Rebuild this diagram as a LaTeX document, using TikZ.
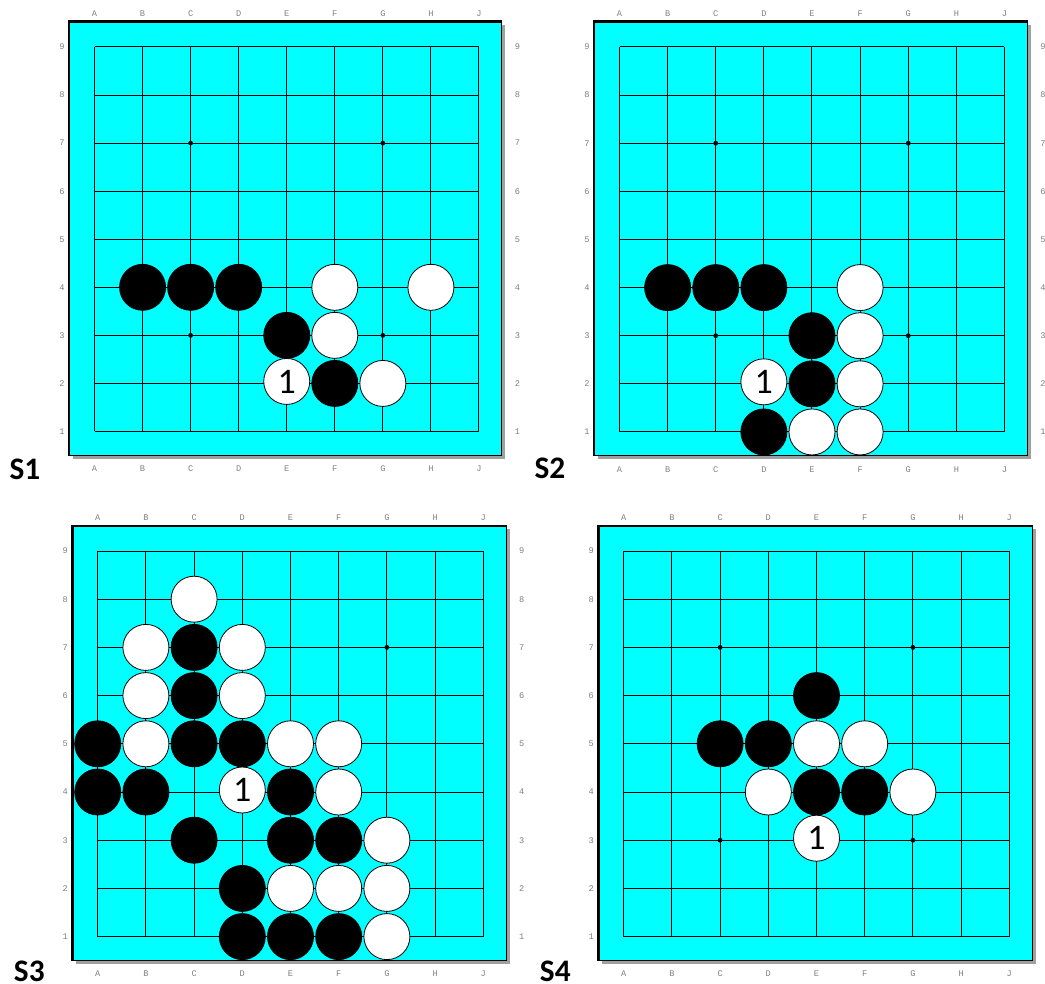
\documentclass[tikz,border=0pt]{standalone}
\usepackage{fontspec}
\setmainfont{Carlito}
\newfontfamily\lblfont{Liberation Mono}
\definecolor{boardcyan}{HTML}{00FFFF}
\definecolor{shadowgray}{HTML}{A0A0A0}
\definecolor{lblgray}{HTML}{808080}
\tikzset{
  gridline/.style={line width=0.75pt, draw=black},
  lbl/.style={font=\lblfont\fontsize{6.5}{7}\selectfont, text=lblgray, inner sep=0},
  stoneb/.style={circle, draw=black, fill=black, line width=0.6pt, minimum size=34.5pt, inner sep=0},
  stonew/.style={circle, draw=black, fill=white, line width=0.6pt, minimum size=34.5pt, inner sep=0},
  onefont/.style={font=\fontsize{27}{27}\selectfont},
  slab/.style={font=\bfseries\fontsize{23.5}{24}\selectfont, inner sep=0}
}
\newcommand\stn[4]{\node[stone#1] (#4) at ({#2*\sp},{(9-#3)*\sp}) {};}
\newcommand\stnone[3]{\node[stonew, onefont, yshift=1.5pt] (#3) at ({#1*\sp},{(9-#2)*\sp}) {1};}
% #1 x, #2 y, #3 spacing, #4 prefix, #5 right labels (1/0), #6 stones
\newcommand\goboard[6]{%
\begin{scope}[shift={(#1,#2)}]
\pgfmathsetmacro\W{8*#3}
\def\sp{#3}
\fill[shadowgray] (-22,-22) rectangle (\W+26.5,\W+27.5);
\filldraw[fill=boardcyan, draw=black, line width=0.75pt] (-26.5,-26) rectangle (\W+23,\W+24);
\draw[line width=2pt] (-25.5,\W+24) -- (-25.5,-25) -- (\W+23,-25);
\foreach \i in {0,...,8} {
  \draw[gridline] ({\i*#3},0) -- ({\i*#3},\W);
  \draw[gridline] (0,{\i*#3}) -- (\W,{\i*#3});
}
\foreach \c in {2,6} \foreach \r in {2,6} \fill ({\c*#3},{\r*#3}) circle (2.4);
\foreach \l [count=\k from 0] in {A,B,C,D,E,F,G,H,J} {
  \node[lbl] (#4top\l) at ({\k*#3},-33) {\l};
  \node[lbl] (#4bot\l) at ({\k*#3},\W+37.5) {\l};
}
\foreach \n in {1,...,9} {
  \node[lbl] (#4left\n) at (-32.5,{(9-\n)*#3}) {\n};
  \ifnum#5=1 \node[lbl] (#4right\n) at (\W+38.5,{(9-\n)*#3}) {\n};\fi
}
#6
\end{scope}}
\begin{document}
\begin{tikzpicture}[x=0.75pt, y=-0.75pt]
\useasboundingbox (0,0) rectangle (1045,984);
\clip (0,0) rectangle (1045,984);
% S1
\goboard{94.5}{47}{48.06}{a}{1}{%
  \stn{b}{1}{4}{aB4}\stn{b}{2}{4}{aC4}\stn{b}{3}{4}{aD4}
  \stn{w}{5}{4}{aF4}\stn{w}{7}{4}{aH4}
  \stn{b}{4}{3}{aE3}\stn{w}{5}{3}{aF3}
  \stnone{4}{2}{aE2}\stn{b}{5}{2}{aF2}\stn{w}{6}{2}{aG2}
}
% S2
\goboard{619.5}{47}{48.12}{b}{1}{%
  \stn{b}{1}{4}{bB4}\stn{b}{2}{4}{bC4}\stn{b}{3}{4}{bD4}
  \stn{w}{5}{4}{bF4}
  \stn{b}{4}{3}{bE3}\stn{w}{5}{3}{bF3}
  \stnone{3}{2}{bD2}\stn{b}{4}{2}{bE2}\stn{w}{5}{2}{bF2}
  \stn{b}{3}{1}{bD1}\stn{w}{4}{1}{bE1}\stn{w}{5}{1}{bF1}
}
% S3
\goboard{97.7}{551}{48.2}{c}{1}{%
  \stn{w}{2}{8}{cC8}
  \stn{w}{1}{7}{cB7}\stn{b}{2}{7}{cC7}\stn{w}{3}{7}{cD7}
  \stn{w}{1}{6}{cB6}\stn{b}{2}{6}{cC6}\stn{w}{3}{6}{cD6}
  \stn{b}{0}{5}{cA5}\stn{w}{1}{5}{cB5}\stn{b}{2}{5}{cC5}\stn{b}{3}{5}{cD5}\stn{w}{4}{5}{cE5}\stn{w}{5}{5}{cF5}
  \stn{b}{0}{4}{cA4}\stn{b}{1}{4}{cB4}\stnone{3}{4}{cD4}\stn{b}{4}{4}{cE4}\stn{w}{5}{4}{cF4}
  \stn{b}{2}{3}{cC3}\stn{b}{4}{3}{cE3}\stn{b}{5}{3}{cF3}\stn{w}{6}{3}{cG3}
  \stn{b}{3}{2}{cD2}\stn{w}{4}{2}{cE2}\stn{w}{5}{2}{cF2}\stn{w}{6}{2}{cG2}
  \stn{b}{3}{1}{cD1}\stn{b}{4}{1}{cE1}\stn{b}{5}{1}{cF1}\stn{w}{6}{1}{cG1}
}
% S4
\goboard{623.7}{551}{48.2}{d}{0}{%
  \stn{b}{4}{6}{dE6}
  \stn{b}{2}{5}{dC5}\stn{b}{3}{5}{dD5}\stn{w}{4}{5}{dE5}\stn{w}{5}{5}{dF5}
  \stn{w}{3}{4}{dD4}\stn{b}{4}{4}{dE4}\stn{b}{5}{4}{dF4}\stn{w}{6}{4}{dG4}
  \stnone{4}{3}{dE3}
}
\node[slab] (s1) at (25,469) {S1};
\node[slab] (s2) at (550,468.5) {S2};
\node[slab] (s3) at (29.3,971) {S3};
\node[slab] (s4) at (555.3,971) {S4};
\end{tikzpicture}
\end{document}
